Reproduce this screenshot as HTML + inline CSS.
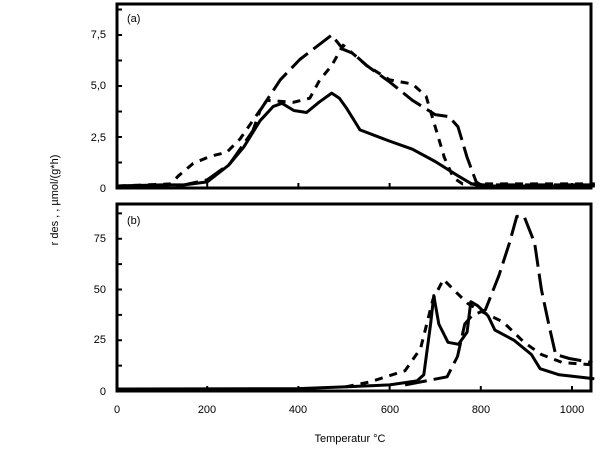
<!DOCTYPE html>
<html><head><meta charset="utf-8"><style>
html,body{margin:0;padding:0;background:#fff;}
svg{display:block;font-family:"Liberation Sans",Arial,sans-serif;}
</style></head><body>
<svg id="s" width="600" height="472" viewBox="0 0 600 472" xmlns="http://www.w3.org/2000/svg">
<rect x="117" y="4" width="474" height="184" fill="none" stroke="#000" stroke-width="3"/>
<rect x="117" y="204" width="474" height="187" fill="none" stroke="#000" stroke-width="3"/>
<g font-size="11" fill="#000" text-anchor="end">
<text x="106" y="192">0</text><text x="106" y="141">2,5</text><text x="106" y="89">5,0</text><text x="106" y="38">7,5</text>
<text x="106" y="395">0</text><text x="106" y="343">25</text><text x="106" y="293">50</text><text x="106" y="242">75</text>
</g>
<g font-size="11" text-anchor="middle">
<text x="117" y="413">0</text><text x="207" y="413">200</text><text x="298" y="413">400</text><text x="390" y="413">600</text><text x="481" y="413">800</text><text x="572" y="413">1000</text>
<text x="350" y="442">Temperatur  °C</text>
</g>
<text x="127" y="22" font-size="11">(a)</text>
<text x="127" y="224" font-size="11">(b)</text>
<text transform="translate(58,200) rotate(-90)" font-size="11" text-anchor="middle">r des , , µmol/(g*h)</text>
<g id="ticks" stroke="#000" stroke-width="2"></g>
<g id="curves" fill="none" stroke="#000" stroke-width="3" stroke-linejoin="round"></g>
</svg>
<script>
var X=function(t){return 116+0.456*t;};
var YA=function(v){return 188-20.4*v;};
var YB=function(v){return 391-2.03*v;};
var tk=document.getElementById('ticks'),h='';
[200,400,600,800,1000].forEach(function(t){h+='<line x1="'+X(t)+'" y1="188" x2="'+X(t)+'" y2="183"/><line x1="'+X(t)+'" y1="391" x2="'+X(t)+'" y2="386"/>';});
for(var v=1.25;v<8.9;v+=1.25)h+='<line x1="117" y1="'+YA(v)+'" x2="122" y2="'+YA(v)+'"/>';
for(var v=12.5;v<90;v+=12.5)h+='<line x1="117" y1="'+YB(v)+'" x2="122" y2="'+YB(v)+'"/>';
tk.innerHTML=h;
function P(d,Y){return d.map(function(p,i){return (i?'L':'M')+X(p[0]).toFixed(1)+','+Y(p[1]).toFixed(1);}).join(' ');}
var aS=[[5,0.1],[100,0.15],[150,0.15],[200,0.3],[246,1.1],[280,2.0],[316,3.3],[345,4.0],[364,4.15],[390,3.8],[418,3.7],[445,4.2],[473,4.65],[490,4.4],[506,3.9],[535,2.85],[600,2.3],[650,1.9],[700,1.3],[750,0.6],[780,0.2],[800,0.1],[1050,0.1]];
var aL=[[5,0.1],[150,0.15],[200,0.4],[250,1.2],[300,2.8],[316,3.8],[360,5.3],[403,6.3],[473,7.5],[498,6.8],[520,6.6],[550,6.0],[600,5.2],[650,4.3],[700,3.6],[730,3.5],[750,3.0],[770,1.5],[790,0.3],[800,0.15],[1050,0.15]];
var aD=[[5,0.1],[120,0.2],[137,0.6],[169,1.2],[206,1.55],[243,1.75],[272,2.4],[297,3.2],[331,4.3],[389,4.2],[425,4.4],[447,5.3],[473,6.0],[498,7.0],[550,6.0],[600,5.3],[650,5.1],[680,4.5],[700,3.0],[720,1.5],[740,0.5],[760,0.2],[1050,0.2]];
var bS=[[5,1],[400,1.2],[500,2],[600,3],[660,5],[675,8],[690,33],[697,47],[708,33],[728,24],[751,23],[770,29],[778,44],[793,42],[816,37],[831,30],[873,25],[911,18],[930,11],[972,8],[1049,6]];
var bD=[[504,2],[557,4.5],[634,10],[668,21],[695,45],[718,55],[749,48],[772,43],[803,39],[849,34],[895,24],[933,18],[979,14],[1040,13]];
var bL=[[634,3],[680,5],[726,7],[749,17],[765,33],[780,37],[810,40],[840,57],[863,73],[879,86],[895,86],[918,73],[933,50],[949,33],[964,18],[994,16],[1045,14]];
var c='';
c+='<path d="'+P(aS,YA)+'"/>';
c+='<path d="'+P(aL,YA)+'" stroke-dasharray="22,7"/>';
c+='<path d="'+P(aD,YA)+'" stroke-dasharray="8,7"/>';
c+='<path d="'+P(bS,YB)+'"/>';
c+='<path d="'+P(bD,YB)+'" stroke-dasharray="8,7"/>';
c+='<path d="'+P(bL,YB)+'" stroke-dasharray="22,7"/>';
document.getElementById('curves').innerHTML=c;
</script>
</body></html>
